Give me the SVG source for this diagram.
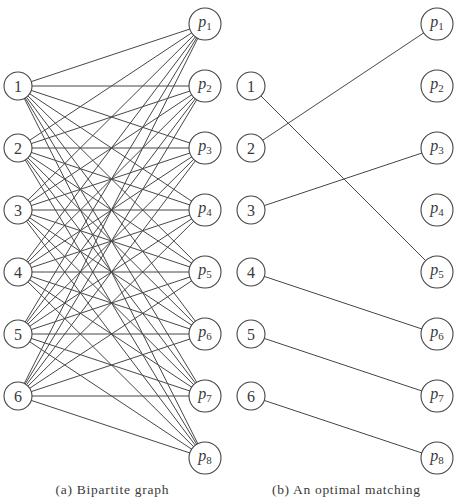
<svg xmlns="http://www.w3.org/2000/svg" width="459" height="501" viewBox="0 0 459 501">
<style>
.e{stroke:#474747;stroke-width:1;fill:none}
.n{fill:#fff;stroke:#444;stroke-width:1.1}
.t{font-family:"Liberation Serif",serif;font-size:16px;fill:#3a3a3a;text-anchor:middle}
.p{font-style:italic}
.s{font-style:normal;font-size:11px}
.cap{font-family:"Liberation Serif",serif;font-size:13.5px;fill:#3a3a3a;text-anchor:middle}
</style>
<rect width="459" height="501" fill="#fff"/>
<g id="edges-a">
<path class="e" d="M18 86L205 24M18 86L205 86M18 86L205 148M18 86L205 210M18 86L205 272M18 86L205 334M18 86L205 396M18 86L205 458"/>
<path class="e" d="M18 148L205 24M18 148L205 86M18 148L205 148M18 148L205 210M18 148L205 272M18 148L205 334M18 148L205 396M18 148L205 458"/>
<path class="e" d="M18 210L205 24M18 210L205 86M18 210L205 148M18 210L205 210M18 210L205 272M18 210L205 334M18 210L205 396M18 210L205 458"/>
<path class="e" d="M18 272L205 24M18 272L205 86M18 272L205 148M18 272L205 210M18 272L205 272M18 272L205 334M18 272L205 396M18 272L205 458"/>
<path class="e" d="M18 334L205 24M18 334L205 86M18 334L205 148M18 334L205 210M18 334L205 272M18 334L205 334M18 334L205 396M18 334L205 458"/>
<path class="e" d="M18 396L205 24M18 396L205 86M18 396L205 148M18 396L205 210M18 396L205 272M18 396L205 334M18 396L205 396M18 396L205 458"/>
</g>
<g id="edges-b">
<path class="e" d="M251 86L437 272M251 148L437 24M251 210L437 148M251 272L437 334M251 334L437 396M251 396L437 458"/>
</g>
<g id="a-1"><circle class="n" cx="18" cy="86" r="14"/><text class="t" x="18" y="91.5">1</text></g>
<g id="a-2"><circle class="n" cx="18" cy="148" r="14"/><text class="t" x="18" y="153.5">2</text></g>
<g id="a-3"><circle class="n" cx="18" cy="210" r="14"/><text class="t" x="18" y="215.5">3</text></g>
<g id="a-4"><circle class="n" cx="18" cy="272" r="14"/><text class="t" x="18" y="277.5">4</text></g>
<g id="a-5"><circle class="n" cx="18" cy="334" r="14"/><text class="t" x="18" y="339.5">5</text></g>
<g id="a-6"><circle class="n" cx="18" cy="396" r="14"/><text class="t" x="18" y="401.5">6</text></g>
<g id="a-p1"><circle class="n" cx="205" cy="24" r="16"/><text class="t" x="205" y="27"><tspan class="p">p</tspan><tspan class="s" dy="3">1</tspan></text></g>
<g id="a-p2"><circle class="n" cx="205" cy="86" r="16"/><text class="t" x="205" y="89"><tspan class="p">p</tspan><tspan class="s" dy="3">2</tspan></text></g>
<g id="a-p3"><circle class="n" cx="205" cy="148" r="16"/><text class="t" x="205" y="151"><tspan class="p">p</tspan><tspan class="s" dy="3">3</tspan></text></g>
<g id="a-p4"><circle class="n" cx="205" cy="210" r="16"/><text class="t" x="205" y="213"><tspan class="p">p</tspan><tspan class="s" dy="3">4</tspan></text></g>
<g id="a-p5"><circle class="n" cx="205" cy="272" r="16"/><text class="t" x="205" y="275"><tspan class="p">p</tspan><tspan class="s" dy="3">5</tspan></text></g>
<g id="a-p6"><circle class="n" cx="205" cy="334" r="16"/><text class="t" x="205" y="337"><tspan class="p">p</tspan><tspan class="s" dy="3">6</tspan></text></g>
<g id="a-p7"><circle class="n" cx="205" cy="396" r="16"/><text class="t" x="205" y="399"><tspan class="p">p</tspan><tspan class="s" dy="3">7</tspan></text></g>
<g id="a-p8"><circle class="n" cx="205" cy="458" r="16"/><text class="t" x="205" y="461"><tspan class="p">p</tspan><tspan class="s" dy="3">8</tspan></text></g>
<g id="b-1"><circle class="n" cx="251" cy="86" r="14"/><text class="t" x="251" y="91.5">1</text></g>
<g id="b-2"><circle class="n" cx="251" cy="148" r="14"/><text class="t" x="251" y="153.5">2</text></g>
<g id="b-3"><circle class="n" cx="251" cy="210" r="14"/><text class="t" x="251" y="215.5">3</text></g>
<g id="b-4"><circle class="n" cx="251" cy="272" r="14"/><text class="t" x="251" y="277.5">4</text></g>
<g id="b-5"><circle class="n" cx="251" cy="334" r="14"/><text class="t" x="251" y="339.5">5</text></g>
<g id="b-6"><circle class="n" cx="251" cy="396" r="14"/><text class="t" x="251" y="401.5">6</text></g>
<g id="b-p1"><circle class="n" cx="437" cy="24" r="16"/><text class="t" x="437" y="27"><tspan class="p">p</tspan><tspan class="s" dy="3">1</tspan></text></g>
<g id="b-p2"><circle class="n" cx="437" cy="86" r="16"/><text class="t" x="437" y="89"><tspan class="p">p</tspan><tspan class="s" dy="3">2</tspan></text></g>
<g id="b-p3"><circle class="n" cx="437" cy="148" r="16"/><text class="t" x="437" y="151"><tspan class="p">p</tspan><tspan class="s" dy="3">3</tspan></text></g>
<g id="b-p4"><circle class="n" cx="437" cy="210" r="16"/><text class="t" x="437" y="213"><tspan class="p">p</tspan><tspan class="s" dy="3">4</tspan></text></g>
<g id="b-p5"><circle class="n" cx="437" cy="272" r="16"/><text class="t" x="437" y="275"><tspan class="p">p</tspan><tspan class="s" dy="3">5</tspan></text></g>
<g id="b-p6"><circle class="n" cx="437" cy="334" r="16"/><text class="t" x="437" y="337"><tspan class="p">p</tspan><tspan class="s" dy="3">6</tspan></text></g>
<g id="b-p7"><circle class="n" cx="437" cy="396" r="16"/><text class="t" x="437" y="399"><tspan class="p">p</tspan><tspan class="s" dy="3">7</tspan></text></g>
<g id="b-p8"><circle class="n" cx="437" cy="458" r="16"/><text class="t" x="437" y="461"><tspan class="p">p</tspan><tspan class="s" dy="3">8</tspan></text></g>
<text class="cap" x="112" y="494" textLength="113" lengthAdjust="spacing">(a) Bipartite graph</text>
<text class="cap" x="346" y="494" textLength="148" lengthAdjust="spacing">(b) An optimal matching</text>
</svg>
